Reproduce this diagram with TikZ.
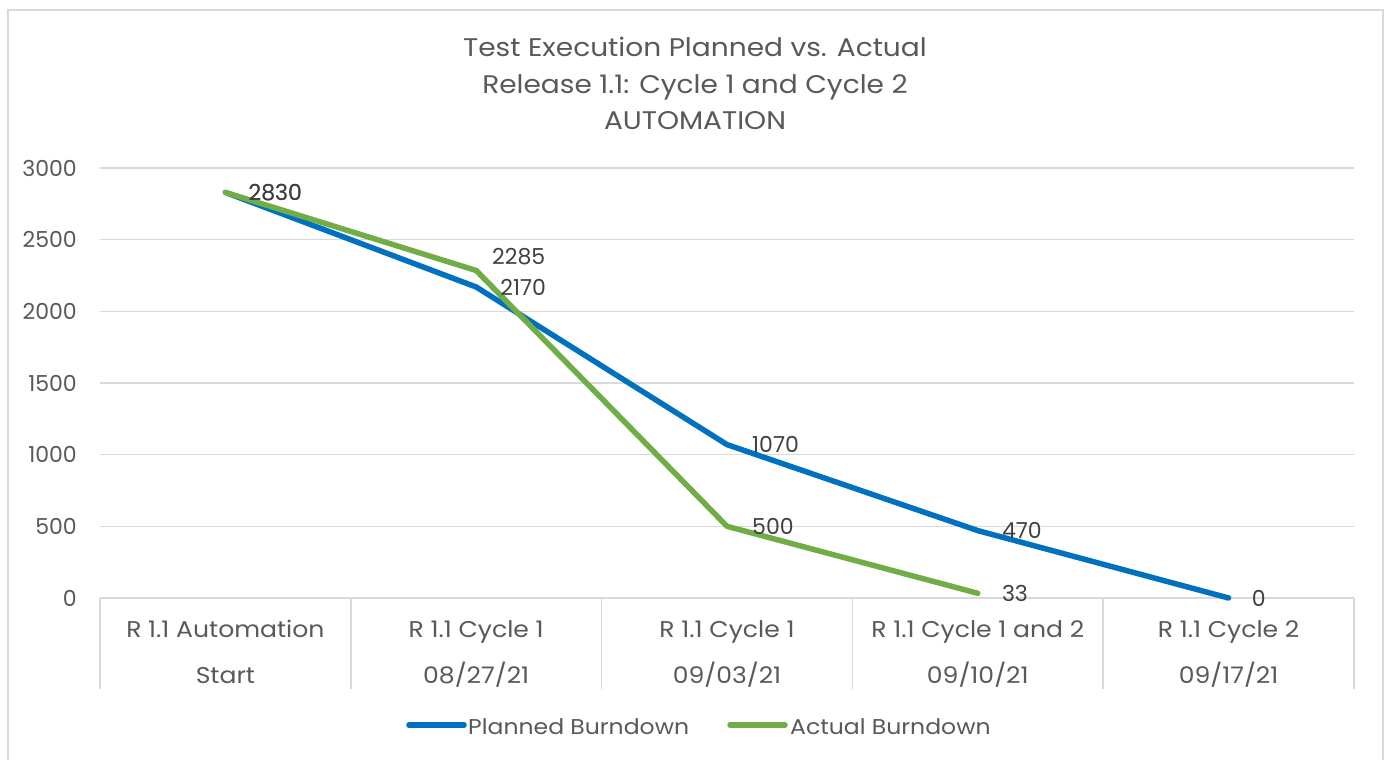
\documentclass[tikz,border=0pt]{standalone}
\usepackage{fontspec}
\setmainfont{Poppins}
\newfontfamily\widefont[FakeStretch=1.1]{Poppins}
\definecolor{planned}{HTML}{0070C0}
\definecolor{actual}{HTML}{70AD47}
\definecolor{gridgray}{HTML}{D9D9D9}
\definecolor{framegray}{HTML}{D9D9D9}
\definecolor{axistext}{HTML}{595959}
\definecolor{labeltext}{HTML}{404040}
\tikzset{
  txt/.style={font=\fontsize{22}{26}\selectfont, inner sep=0pt},
  gridline/.style={draw=gridgray, line width=1.5pt},
  series/.style={line width=5.5pt, line cap=round, line join=round},
  ytick/.style={txt, text=axistext, anchor=east},
  catlabel/.style={font=\widefont\fontsize{22.8}{26}\selectfont, inner sep=0pt, text=axistext, anchor=base},
  datalabel/.style={txt, text=labeltext, anchor=west},
  titletext/.style={font=\widefont\fontsize{25.5}{30}\selectfont, inner sep=0pt, text=axistext, anchor=base},
  legendtext/.style={font=\widefont\fontsize{21.4}{26}\selectfont, inner sep=0pt, text=axistext, anchor=base west},
}
\begin{document}
\begin{tikzpicture}[x=1pt,y=-1pt]
\useasboundingbox (0,0) rectangle (1390,760);
\fill[white] (0,0) rectangle (1390,760);
% chart frame (open at the bottom edge)
\draw[framegray, line width=2pt] (8,770) -- (8,10) -- (1383,10) -- (1383,770);

% title
\node[titletext] (t1) at (695,57) {Test Execution Planned vs. Actual};
\node[titletext] (t2) at (695,93) {Release 1.1: Cycle 1 and Cycle 2};
\node[titletext] (t3) at (695,129) {AUTOMATION};

% horizontal gridlines and value axis labels
\foreach \v/\y in {0/598,500/526.33,1000/454.67,1500/383,2000/311.33,2500/239.67,3000/168}{
  \draw[gridline] (100,\y) -- (1354,\y);
  \node[ytick] (y\v) at (77,\y) {\v};
}

% category axis tick marks
\foreach \x in {100,350.8,601.6,852.4,1103.2,1354}{
  \draw[gridline] (\x,598) -- (\x,689);
}

% category labels
\foreach \x/\a/\b [count=\i] in {225.4/R 1.1 Automation/Start,
                                 476.2/R 1.1 Cycle 1/08\slash 27\slash 21,
                                 727/R 1.1 Cycle 1/09\slash 03\slash 21,
                                 977.8/R 1.1 Cycle 1 and 2/09\slash 10\slash 21,
                                 1228.6/R 1.1 Cycle 2/09\slash 17\slash 21}{
  \node[catlabel] (ca\i) at (\x,637) {\a};
  \node[catlabel] (cb\i) at (\x,683) {\b};
}

% data points
\coordinate (p1) at (225.4,192.4);
\coordinate (p2) at (476.2,287.0);
\coordinate (p3) at (727,444.6);
\coordinate (p4) at (977.8,530.6);
\coordinate (p5) at (1228.6,598);
\coordinate (a1) at (225.4,192.4);
\coordinate (a2) at (476.2,270.5);
\coordinate (a3) at (727,526.3);
\coordinate (a4) at (977.8,593.3);

% series
\draw[series, planned] (p1) -- (p2) -- (p3) -- (p4) -- (p5);
\draw[series, actual] (a1) -- (a2) -- (a3) -- (a4);

% data labels
\node[datalabel] (lp1) at ([xshift=23pt]p1) {2830};
\node[datalabel] (lp2) at ([xshift=24pt]p2) {2170};
\node[datalabel] (lp3) at ([xshift=25pt]p3) {1070};
\node[datalabel] (lp4) at ([xshift=24pt]p4) {470};
\node[datalabel] (lp5) at ([xshift=23pt]p5) {0};
\node[datalabel] (la1) at ([xshift=23pt]a1) {2830};
\node[datalabel] (la2) at (492,257) {2285};
\node[datalabel] (la3) at ([xshift=25pt]a3) {500};
\node[datalabel] (la4) at ([xshift=24pt]a4) {33};

% legend
\coordinate (lg1a) at (409,725);
\coordinate (lg1b) at (464,725);
\coordinate (lg2a) at (730,725);
\coordinate (lg2b) at (785,725);
\draw[series, planned] (lg1a) -- (lg1b);
\draw[series, actual] (lg2a) -- (lg2b);
\node[legendtext] (lt1) at (468,734) {Planned Burndown};
\node[legendtext] (lt2) at (790,734) {Actual Burndown};
\end{tikzpicture}
\end{document}
